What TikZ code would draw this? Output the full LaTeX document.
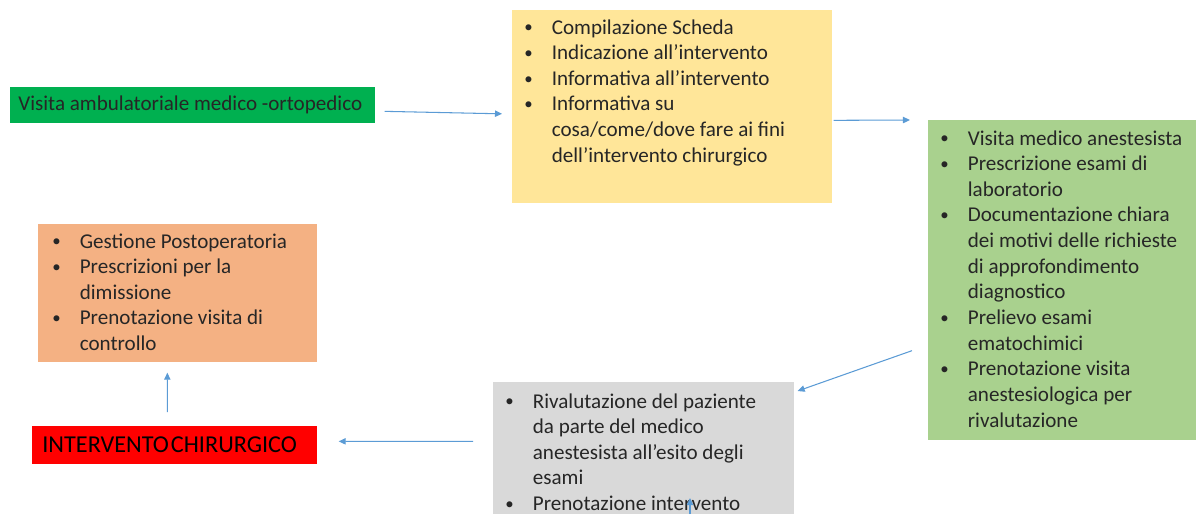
\documentclass[tikz,border=0pt]{standalone}
\usepackage{fontspec}
\setmainfont{Carlito}
\usetikzlibrary{arrows.meta, positioning}

\definecolor{verde}{HTML}{00B050}
\definecolor{giallo}{HTML}{FFE699}
\definecolor{verdechiaro}{HTML}{A9D18E}
\definecolor{arancio}{HTML}{F4B183}
\definecolor{rosso}{HTML}{FF0000}
\definecolor{grigio}{HTML}{D9D9D9}
\definecolor{blu}{HTML}{5B9BD5}
\definecolor{testo}{HTML}{262626}

% bullet item with hanging indent
\newcommand{\voce}[1]{\par\noindent\hangindent=0.55cm\hangafter=1\makebox[0.55cm][l]{\raisebox{0.05em}{\scalebox{0.8}{\textbullet}}}#1}
\newcommand{\elenco}[1]{\parbox[t]{7cm}{\raggedright #1}}

\begin{document}
\begin{tikzpicture}[x=0.02cm, y=-0.02cm,
    font=\fontsize{12}{14.6}\selectfont, text=testo,
    box/.style={anchor=north west, inner sep=0pt, draw=none},
    lista/.style={anchor=base west, inner sep=0pt, align=left},
    freccia/.style={-{Triangle[length=4pt,width=3.6pt]}, blu, line width=0.6pt}]
    \useasboundingbox (0,0) rectangle (1197,514);

    % Boxes
    \node[box, fill=verde, minimum width=7.3cm, minimum height=0.72cm] (visita) at (10,87) {};
    \node[box, fill=giallo, minimum width=6.4cm, minimum height=3.86cm] (scheda) at (512,10) {};
    \node[box, fill=verdechiaro, minimum width=5.36cm, minimum height=6.4cm] (anest) at (928,120) {};
    \node[box, fill=grigio, minimum width=6.02cm, minimum height=2.64cm] (rival) at (493,382) {};
    \node[box, fill=rosso, minimum width=5.7cm, minimum height=0.76cm] (interv) at (32,426) {};
    \node[box, fill=arancio, minimum width=5.58cm, minimum height=2.76cm] (postop) at (38,224) {};

    % Texts
    \node[lista] (tvisita) at (18,110) {Visita ambulatoriale medico -ortopedico};
    \node[lista] (tscheda) at (524,34) {\elenco{%
        \voce{Compilazione Scheda}
        \voce{Indicazione all’intervento}
        \voce{Informativa all’intervento}
        \voce{Informativa su\newline cosa/come/dove fare ai fini\newline dell’intervento chirurgico}}};
    \node[lista] (tanest) at (940,145) {\elenco{%
        \voce{Visita medico anestesista}
        \voce{Prescrizione esami di\newline laboratorio}
        \voce{Documentazione chiara\newline dei motivi delle richieste\newline di approfondimento\newline diagnostico}
        \voce{Prelievo esami\newline ematochimici}
        \voce{Prenotazione visita\newline anestesiologica per\newline rivalutazione}}};
    \node[lista] (trival) at (505,408) {\elenco{%
        \voce{Rivalutazione del paziente\newline da parte del medico\newline anestesista all’esito degli\newline esami}
        \voce{Prenotazione intervento}}};
    \node[lista, font=\fontsize{13.8}{16}\selectfont, text=black] (tinterv) at (42,452) {INTERVENTO\hspace{0.08em}CHIRURGICO};
    \node[lista] (tpostop) at (52,248) {\elenco{%
        \voce{Gestione Postoperatoria}
        \voce{Prescrizioni per la\newline dimissione}
        \voce{Prenotazione visita di\newline controllo}}};

    % Connectors
    \draw[freccia] ([xshift=0.18cm, yshift=-0.12cm]visita.east) -- ([xshift=-0.2cm, yshift=-0.14cm]scheda.west);
    \draw[freccia] ([xshift=0.02cm, yshift=-0.27cm]scheda.east) -- ([xshift=-0.36cm]anest.north west);
    \draw[freccia] ([xshift=-0.32cm, yshift=1.8cm]anest.south west) -- ([xshift=0.06cm, yshift=-0.18cm]rival.north east);
    \draw[freccia] ([xshift=-0.4cm, yshift=0.14cm]rival.west) -- ([xshift=0.42cm, yshift=0.08cm]interv.east);
    \draw[freccia] ([xshift=-0.15cm, yshift=0.28cm]interv.north) -- ([xshift=-0.21cm, yshift=-0.2cm]postop.south);
    \coordinate (fondo) at (690,514);
    \coordinate (punta) at (690,498);
    \draw[freccia] (fondo) -- (punta);
\end{tikzpicture}
\end{document}
